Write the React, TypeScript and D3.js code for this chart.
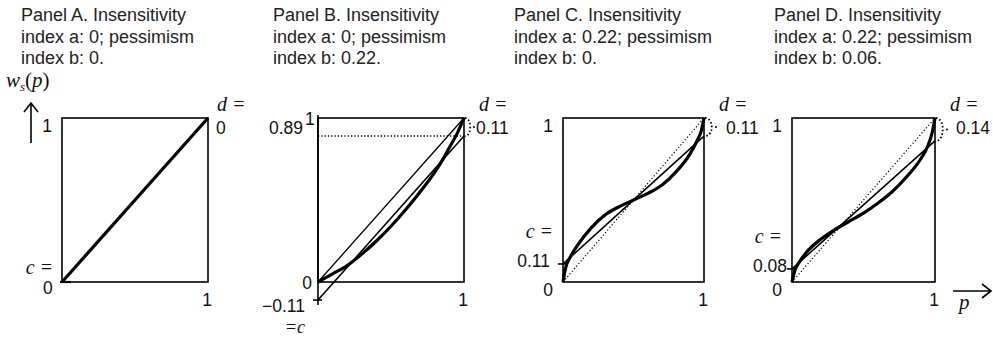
import { useMemo } from 'react';
import * as d3 from 'd3';

// Panel parameters
const panelIds = ['A', 'B', 'C', 'D'];
const insensitivityA = ['0', '0', '0.22', '0.22'];
const pessimismB = ['0', '0.22', '0', '0.06'];
const cValues = [0, -0.11, 0.11, 0.08];
const dValues = [0, 0.11, 0.11, 0.14];
const cLabels = ['0', '\u22120.11', '0.11', '0.08'];
const dLabels = ['0', '0.11', '0.11', '0.14'];

// Weighting curves (p, w)
const curveP_B = [0, 0.1, 0.2, 0.3, 0.4, 0.5, 0.6, 0.7, 0.8, 0.85, 0.9, 0.95, 1];
const curveW_B = [0, 0.05, 0.1, 0.17, 0.25, 0.34, 0.44, 0.55, 0.67, 0.74, 0.82, 0.9, 1];
const curveP_C = [0, 0.02, 0.05, 0.1, 0.2, 0.3, 0.4, 0.5, 0.6, 0.7, 0.8, 0.9, 0.95, 0.98, 1];
const curveW_C = [0, 0.09, 0.15, 0.22, 0.33, 0.41, 0.46, 0.5, 0.54, 0.59, 0.67, 0.78, 0.86, 0.92, 1];
const curveP_D = [0, 0.02, 0.05, 0.1, 0.2, 0.3, 0.4, 0.5, 0.6, 0.7, 0.8, 0.9, 0.95, 0.98, 1];
const curveW_D = [0, 0.07, 0.12, 0.18, 0.26, 0.32, 0.37, 0.42, 0.48, 0.55, 0.64, 0.75, 0.83, 0.91, 1];
const curveA_P = [0, 1];
const curveA_W = [0, 1];

const curves = [
  [curveA_P, curveA_W],
  [curveP_B, curveW_B],
  [curveP_C, curveW_C],
  [curveP_D, curveW_D],
];

// layout (pixels)
const boxes = [
  { left: 62, right: 208, titleX: 21, dValX: 8, bulge: 10 },
  { left: 318, right: 464, titleX: 273, dValX: 12, bulge: 8 },
  { left: 563, right: 704, titleX: 514, dValX: 22, bulge: 10 },
  { left: 792, right: 935, titleX: 774, dValX: 21, bulge: 10 },
];
const TOP = 118;
const BOTTOM = 282;

const SANS = '"Liberation Sans", Arial, Helvetica, sans-serif';
const SERIF = '"Liberation Serif", "Times New Roman", serif';

function Panel({ i }: { i: number }) {
  const b = boxes[i];
  const x = d3.scaleLinear().domain([0, 1]).range([b.left, b.right]);
  const y = d3.scaleLinear().domain([0, 1]).range([BOTTOM, TOP]);
  const c = cValues[i];
  const d = dValues[i];
  const [ps, ws] = curves[i];
  const pts: [number, number][] = ps.map((p, k) => [p, ws[k]]);
  const line = d3
    .line<[number, number]>()
    .x((v) => x(v[0]))
    .y((v) => y(v[1]))
    .curve(i === 0 ? d3.curveLinear : d3.curveMonotoneX);

  const yTop = y(1);
  const yD = y(1 - d);
  const bx = x(1);
  const bracket =
    'M' + (bx + 1) + ',' + yTop +
    ' C' + (bx + b.bulge) + ',' + yTop + ' ' + (bx + b.bulge) + ',' + yD + ' ' + (bx + 1) + ',' + yD;

  const title = [
    'Panel ' + panelIds[i] + '. Insensitivity',
    'index a: ' + insensitivityA[i] + '; pessimism',
    'index b: ' + pessimismB[i] + '.',
  ];

  const numStyle = { fontFamily: SANS, fontSize: 17.5, fill: '#111' };
  const itStyle = { fontFamily: SERIF, fontSize: 20, fontStyle: 'italic' as const, fill: '#111' };

  return (
    <g>
      {title.map((t, k) => (
        <text key={k} x={b.titleX} y={21 + k * 21.5} style={{ fontFamily: SANS, fontSize: 18, fill: '#222' }}>
          {t}
        </text>
      ))}

      {/* box */}
      <rect x={x(0)} y={y(1)} width={x(1) - x(0)} height={y(0) - y(1)} fill="none" stroke="#000" strokeWidth={1.6} />

      {/* reference diagonal */}
      {i === 1 && <line x1={x(0)} y1={y(0)} x2={x(1)} y2={y(1)} stroke="#000" strokeWidth={1.3} />}
      {i >= 2 && (
        <line x1={x(0)} y1={y(0)} x2={x(1)} y2={y(1)} stroke="#000" strokeWidth={1.2} strokeDasharray="1.2,2.2" />
      )}

      {/* neo-additive line */}
      {i > 0 && <line x1={x(0)} y1={y(c)} x2={x(1)} y2={y(1 - d)} stroke="#000" strokeWidth={1.6} />}

      {/* weighting function */}
      <path d={line(pts) || ''} fill="none" stroke="#000" strokeWidth={3.2} strokeLinejoin="round" />

      {/* d bracket */}
      {i > 0 && (
        <g>
          <path d={bracket} fill="none" stroke="#000" strokeWidth={1.8} strokeDasharray="1.5,2.2" />
          <circle cx={bx + b.bulge + 2} cy={(yTop + yD) / 2} r={1} fill="#000" />
        </g>
      )}

      {/* c tick */}
      {i > 0 && <line x1={x(0) - 5} y1={y(c)} x2={x(0) + 4} y2={y(c)} stroke="#000" strokeWidth={1.6} />}
      {i === 0 && <line x1={x(0) - 2} y1={y(0)} x2={x(0) + 9} y2={y(0)} stroke="#000" strokeWidth={2.2} />}

      {/* extended axis in panel B */}
      {i === 1 && (
        <>
          <line x1={x(0)} y1={y(1) - 3} x2={x(0)} y2={y(c) + 5} stroke="#000" strokeWidth={1.6} />
          <line x1={x(0)} y1={y(1 - d)} x2={x(1)} y2={y(1 - d)} stroke="#000" strokeWidth={1.4} strokeDasharray="1.3,2" />
        </>
      )}

      {/* tick labels */}
      <text x={b.right - 1} y={305.5} textAnchor="middle" style={numStyle}>1</text>
      {i !== 1 ? (
        <text x={x(0) - 10} y={y(1) + 14} textAnchor="end" style={numStyle}>1</text>
      ) : (
        <>
          <text x={x(0) - 13} y={y(1) + 7} style={numStyle}>1</text>
          <text x={x(0) - 15} y={y(1 - d) - 2} textAnchor="end" style={numStyle}>0.89</text>
        </>
      )}

      {/* d label */}
      <text x={b.right + (i === 0 ? 9 : 15)} y={111} style={itStyle}>d =</text>
      <text x={b.right + b.dValX} y={134} style={numStyle}>
        {dLabels[i]}
      </text>

      {/* c / zero labels */}
      {i === 0 && (
        <>
          <text x={x(0) - 9} y={274} textAnchor="end" style={itStyle}>c =</text>
          <text x={x(0) - 19} y={294} style={numStyle}>0</text>
        </>
      )}
      {i === 1 && (
        <>
          <text x={x(0) - 6} y={y(0) + 7} textAnchor="end" style={numStyle}>0</text>
          <text x={x(0) - 13} y={y(c) + 12} textAnchor="end" style={numStyle}>{cLabels[i]}</text>
          <text x={x(0) - 13} y={y(c) + 33} textAnchor="end" style={{ ...itStyle, fontSize: 18 }}>=c</text>
        </>
      )}
      {i >= 2 && (
        <>
          <text x={x(0) - 10} y={y(c) - 26} textAnchor="end" style={itStyle}>c =</text>
          <text x={x(0) - (i === 2 ? 13 : 5)} y={y(c) + 3} textAnchor="end" style={numStyle}>{cLabels[i]}</text>
          <text x={x(0) - 10} y={296} textAnchor="end" style={numStyle}>0</text>
        </>
      )}
    </g>
  );
}

export default function App() {
  const panels = useMemo(() => panelIds.map((_, i) => i), []);
  return (
    <svg
      width={993}
      height={339}
      viewBox="0 0 993 339"
      style={{ position: 'absolute', left: 0, top: 0, background: '#fff' }}
    >
      <rect width={993} height={339} fill="#fff" />
      {panels.map((i) => (
        <Panel key={i} i={i} />
      ))}

      {/* y-axis label and arrow */}
      <text x={6} y={87} style={{ fontFamily: SERIF, fontSize: 21, fontStyle: 'italic', fill: '#111' }}>
        w<tspan fontSize={13} dy={4}>s</tspan>
        <tspan dy={-4} fontStyle="normal">(</tspan>p<tspan fontStyle="normal">)</tspan>
      </text>
      <line x1={31} y1={143} x2={31} y2={104} stroke="#000" strokeWidth={1.6} />
      <path d="M24,112 L31,103 L38,112" fill="none" stroke="#000" strokeWidth={1.6} />

      {/* x-axis label and arrow */}
      <line x1={953} y1={291} x2={991} y2={291} stroke="#000" strokeWidth={1.6} />
      <path d="M982,284 L991,291 L982,298" fill="none" stroke="#000" strokeWidth={1.6} />
      <text x={959} y={309} style={{ fontFamily: SERIF, fontSize: 21, fontStyle: 'italic', fill: '#111' }}>p</text>
    </svg>
  );
}
